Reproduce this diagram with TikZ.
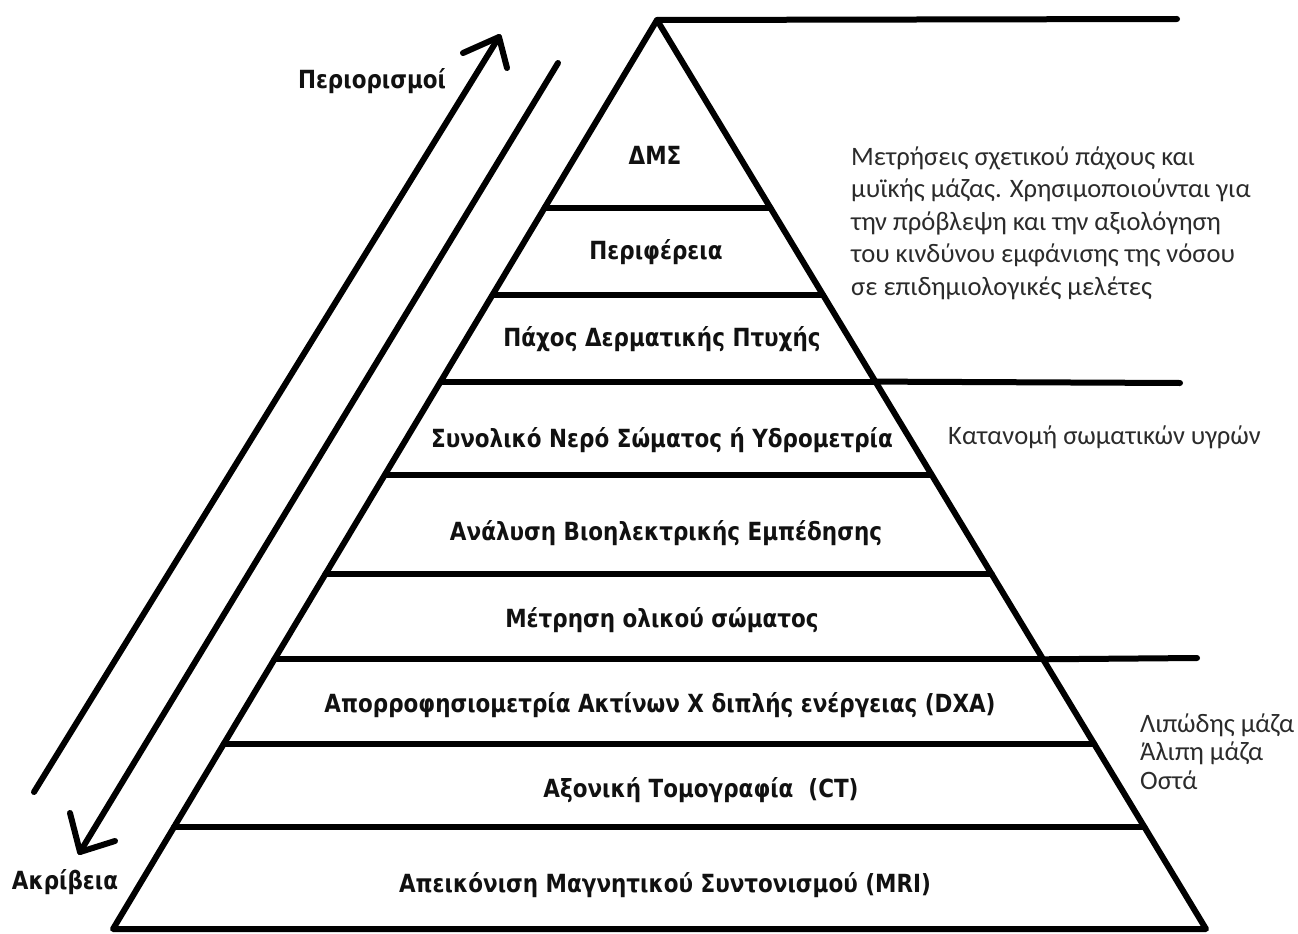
\documentclass[tikz,border=0pt]{standalone}
\usepackage{fontspec}
\setmainfont{DejaVu Sans}
\newfontfamily\boldfam[FakeStretch=0.86]{DejaVu Sans Bold}
\newfontfamily\notefam{Carlito}
\usetikzlibrary{calc}
\definecolor{ink}{HTML}{111111}
\definecolor{notecol}{HTML}{2B2B2B}
\tikzset{
  heavy/.style={line width=6pt, line cap=round, line join=round, draw=black},
  levellabel/.style={font=\boldfam\fontsize{25}{30}\selectfont, text=ink, inner sep=0pt},
  sidelabel/.style={font=\boldfam\fontsize{25}{30}\selectfont, text=ink, inner sep=0pt},
  notelabel/.style={font=\notefam\fontsize{26.6}{32.5}\selectfont, text=notecol, inner sep=0pt, align=left},
  notesmall/.style={font=\notefam\fontsize{26.6}{28.5}\selectfont, text=notecol, inner sep=0pt, align=left}
}
\begin{document}
\begin{tikzpicture}[x=1pt,y=-1pt]
\useasboundingbox (0,0) rectangle (1298,934);
% pyramid corners
\coordinate (A) at (657,20);
\coordinate (BL) at (113,929);
\coordinate (BR) at (1206,929);
\draw[heavy] (BL) -- (A) -- (BR) -- cycle;
% top extension
\coordinate (T1) at (1177,19);
\draw[heavy] (A) -- (T1);
% level lines
\foreach \t/\nm in {0.2066/l1,0.3022/l2,0.3978/l3,0.5/l4,0.6099/l5,0.7033/l6,0.7967/l7,0.8879/l8}{
  \coordinate (\nm L) at ($(A)!\t!(BL)$);
  \coordinate (\nm R) at ($(A)!\t!(BR)$);
  \draw[heavy] (\nm L) -- (\nm R);
}
\coordinate (E3) at (1180,383);
\coordinate (E6) at (1197,658);
\draw[heavy] (l3R) -- (E3);
\draw[heavy] (l6R) -- (E6);
% level labels
\node[levellabel] (n1) at (655,155) {ΔΜΣ};
\node[levellabel] (n2) at (656,252) {Περιφέρεια};
\node[levellabel] (n3) at (662,339) {Πάχος Δερματικής Πτυχής};
\node[levellabel] (n4) at (662,440) {Συνολικό Νερό Σώματος ή Υδρομετρία};
\node[levellabel] (n5) at (666,533) {Ανάλυση Βιοηλεκτρικής Εμπέδησης};
\node[levellabel] (n6) at (662,620) {Μέτρηση ολικού σώματος};
\node[levellabel] (n7) at (660,705) {Απορροφησιομετρία Ακτίνων Χ διπλής ενέργειας (DXA)};
\node[levellabel] (n8) at (701,790) {Αξονική Τομογραφία\ \ (CT)};
\node[levellabel] (n9) at (665,885) {Απεικόνιση Μαγνητικού Συντονισμού (MRI)};
% side labels
\node[sidelabel] (lim) at (372,81) {Περιορισμοί};
\node[sidelabel] (acc) at (65,882) {Ακρίβεια};
% notes
\node[notelabel, anchor=base west] (note1) at (851,295) {Μετρήσεις σχετικού πάχους και\\μυϊκής μάζας. Χρησιμοποιούνται για\\την πρόβλεψη και την αξιολόγηση\\του κινδύνου εμφάνισης της νόσου\\σε επιδημιολογικές μελέτες};
\node[notelabel, anchor=base west] (note2) at (948,444) {Κατανομή σωματικών υγρών};
\node[notesmall, anchor=base west] (note3) at (1140,789) {Λιπώδης μάζα\\Άλιπη μάζα\\Οστά};
% arrows
\coordinate (u0) at (34,792);
\coordinate (u1) at (499,37);
\coordinate (ub1) at (463,53);
\coordinate (ub2) at (507,68);
\draw[heavy] (u0) -- (u1);
\draw[heavy] (ub1) -- (u1) -- (ub2);
\coordinate (d0) at (558,63);
\coordinate (d1) at (80,852);
\coordinate (db1) at (70,813);
\coordinate (db2) at (115,841);
\draw[heavy] (d0) -- (d1);
\draw[heavy] (db1) -- (d1) -- (db2);
\end{tikzpicture}
\end{document}
